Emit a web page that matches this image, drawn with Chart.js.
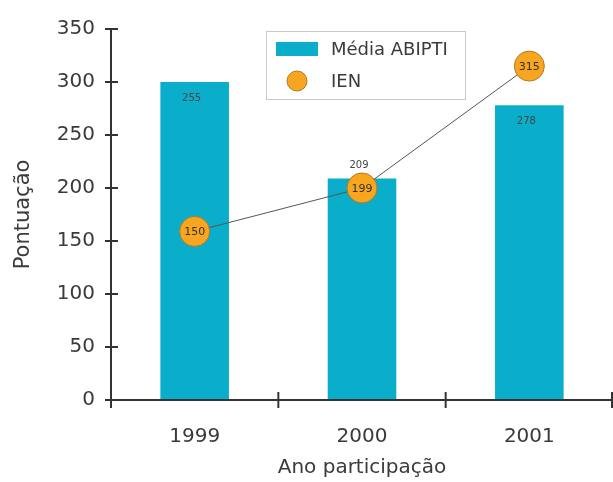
<!DOCTYPE html>
<html>
<head>
<meta charset="utf-8">
<script src="https://cdn.jsdelivr.net/npm/chart.js@4/dist/chart.umd.min.js"></script>
<style>
  html, body { margin: 0; padding: 0; background: #fff; overflow: hidden; }
  #wrap { width: 613px; height: 482px; position: relative; }
  canvas { display: block; }
</style>
</head>
<body>
<div id="wrap"><canvas id="chart"></canvas></div>
<script>
// ===== Data =====
const years = ['1999', '2000', '2001'];
const mediaAbipti = [300, 209, 278];
const mediaAbiptiLabels = ['255', '209', '278'];
const ien = [159, 200, 315];
const ienLabels = ['150', '199', '315'];
const yTicks = [0, 50, 100, 150, 200, 250, 300, 350];

const FONT = '"DejaVu Sans", Verdana, sans-serif';
const TEXT = '#3a3a3a';
const AXIS = '#333';

// tick marks crossing both axes + data labels + legend box
const decorPlugin = {
  id: 'decor',
  afterDatasetsDraw(chart) {
    const ctx = chart.ctx;

    // bar labels
    const barMeta = chart.getDatasetMeta(0);
    const barOffsets = [16, -13, 16];
    ctx.save();
    ctx.font = '10px ' + FONT;
    ctx.fillStyle = '#444';
    ctx.textAlign = 'center';
    ctx.textBaseline = 'middle';
    barMeta.data.forEach((bar, i) => {
      ctx.fillText(mediaAbiptiLabels[i], bar.x - 3, bar.y + barOffsets[i]);
    });

    // point labels
    const lineMeta = chart.getDatasetMeta(1);
    ctx.font = '11px ' + FONT;
    ctx.fillStyle = '#333';
    lineMeta.data.forEach((pt, i) => {
      ctx.fillText(ienLabels[i], pt.x, pt.y + 1);
    });
    ctx.restore();
  },
  afterDraw(chart) {
    const ctx = chart.ctx;
    const x = chart.scales.x, y = chart.scales.y;
    const area = chart.chartArea;
    ctx.save();
    ctx.strokeStyle = AXIS;
    ctx.lineWidth = 2;
    // axes
    ctx.beginPath();
    ctx.moveTo(area.left, area.top);
    ctx.lineTo(area.left, area.bottom);
    ctx.lineTo(area.right, area.bottom);
    ctx.stroke();
    // y ticks
    yTicks.forEach(v => {
      const py = y.getPixelForValue(v);
      ctx.beginPath();
      ctx.moveTo(area.left - 6, py);
      ctx.lineTo(area.left + 7, py);
      ctx.stroke();
    });
    // x ticks at category boundaries
    const step = x.getPixelForValue(1) - x.getPixelForValue(0);
    for (let i = 0; i <= years.length; i++) {
      const px = Math.min(x.getPixelForValue(0) - step / 2 + i * step, area.right - 1);
      ctx.beginPath();
      ctx.moveTo(px, area.bottom - 8);
      ctx.lineTo(px, area.bottom + 8);
      ctx.stroke();
    }

    // legend
    const lx = 266, ly = 31, lw = 199, lh = 68;
    ctx.strokeStyle = '#c8c8c8';
    ctx.lineWidth = 1;
    ctx.fillStyle = '#fff';
    ctx.fillRect(lx, ly, lw, lh);
    ctx.strokeRect(lx + 0.5, ly + 0.5, lw, lh);
    ctx.fillStyle = '#0AAECB';
    ctx.fillRect(lx + 10, ly + 11, 42, 14);
    ctx.beginPath();
    ctx.arc(lx + 31, ly + 50, 10, 0, Math.PI * 2);
    ctx.fillStyle = '#F8A51F';
    ctx.fill();
    ctx.strokeStyle = '#B27A26';
    ctx.stroke();
    ctx.fillStyle = TEXT;
    ctx.font = '18px ' + FONT;
    ctx.textAlign = 'left';
    ctx.textBaseline = 'middle';
    ctx.fillText('Média ABIPTI', lx + 65, ly + 19);
    ctx.fillText('IEN', lx + 65, ly + 51);
    ctx.restore();
  }
};

new Chart(document.getElementById('chart'), {
  data: {
    labels: years,
    datasets: [
      {
        type: 'bar',
        label: 'Média ABIPTI',
        data: mediaAbipti,
        backgroundColor: '#0AAECB',
        borderWidth: 0,
        categoryPercentage: 0.41,
        barPercentage: 1,
        order: 2
      },
      {
        type: 'line',
        label: 'IEN',
        data: ien,
        borderColor: '#555',
        borderWidth: 1,
        pointRadius: 15,
        pointHoverRadius: 15,
        pointBackgroundColor: '#F8A51F',
        pointBorderColor: '#B27A26',
        pointBorderWidth: 1,
        clip: false,
        order: 1
      }
    ]
  },
  options: {
    responsive: true,
    maintainAspectRatio: false,
    animation: false,
    events: [],
    layout: { autoPadding: false, padding: { top: 29, right: 0, left: 11, bottom: 0 } },
    plugins: {
      legend: { display: false },
      tooltip: { enabled: false }
    },
    scales: {
      x: {
        grid: { display: false },
        border: { display: false },
        ticks: { color: TEXT, font: { family: FONT, size: 20 }, padding: 17 },
        title: { display: true, text: 'Ano participação', color: TEXT, font: { family: FONT, size: 20 }, padding: 2 },
        afterFit: s => { s.height = 82; s.paddingRight = 0; }
      },
      y: {
        min: 0,
        max: 350,
        grid: { display: false },
        border: { display: false },
        ticks: { stepSize: 50, color: TEXT, font: { family: FONT, size: 20 }, padding: 8 },
        title: { display: true, text: 'Pontuação', color: TEXT, font: { family: FONT, size: 21 }, padding: { top: 0, bottom: 0 } },
        afterFit: s => { s.width = 100; }
      }
    }
  },
  plugins: [decorPlugin]
});
</script>
</body>
</html>
